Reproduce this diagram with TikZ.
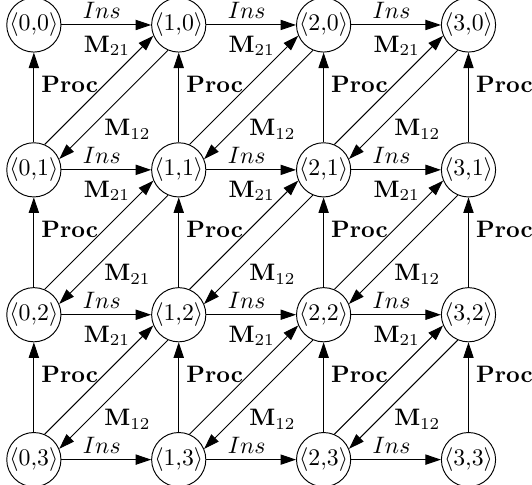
\documentclass[tikz,border=0pt]{standalone}
\usetikzlibrary{arrows.meta}

\begin{document}
\begin{tikzpicture}[
    state/.style={circle, draw, inner sep=0pt},
    arc/.style={-{Triangle[length=6.5pt,width=4.3pt]}}
]
    % Define grid spacing
    \def\gridStep{2.14}

    % Fix the picture size
    \useasboundingbox (-0.50,0.369) rectangle (7.358,-6.795);

    % Draw states
    \foreach \i in {0,...,3}
        \foreach \j in {0,...,3}
            \node[state] (n\i\j) at (\i*\gridStep,-\j*\gridStep) {$\langle\i{,}\j\rangle$};

    % Draw Ins arrows
    \foreach \i/\k in {0/1,1/2,2/3}
        \foreach \j in {0,...,3}
            \draw[arc] (n\i\j) -- (n\k\j) node[pos=0.45, above, inner sep=2.5pt] {$Ins$};

    % Draw Proc arrows
    \foreach \i in {0,...,3}
        \foreach \j/\k in {1/0,2/1,3/2}
            \draw[arc] (n\i\j) -- (n\i\k) node[pos=0.64, right, inner sep=3pt] {\textbf{Proc}};

    % Draw message arrows between neighbouring diagonals
    \foreach \i/\k/\j/\l/\back in {0/1/1/0/12, 1/2/1/0/12, 2/3/1/0/12,
                                   0/1/2/1/21, 1/2/2/1/12, 2/3/2/1/12,
                                   0/1/3/2/12, 1/2/3/2/12, 2/3/3/2/12} {
        \draw[arc] (n\i\j.67) -- (n\k\l.203) node[pos=0.80, above left, inner sep=0.5pt] {$\mathbf{M}_{21}$};
        \draw[arc] (n\k\l.247) -- (n\i\j.23) node[pos=0.61, below right, inner sep=1pt] {$\mathbf{M}_{\back}$};
    }
\end{tikzpicture}
\end{document}
